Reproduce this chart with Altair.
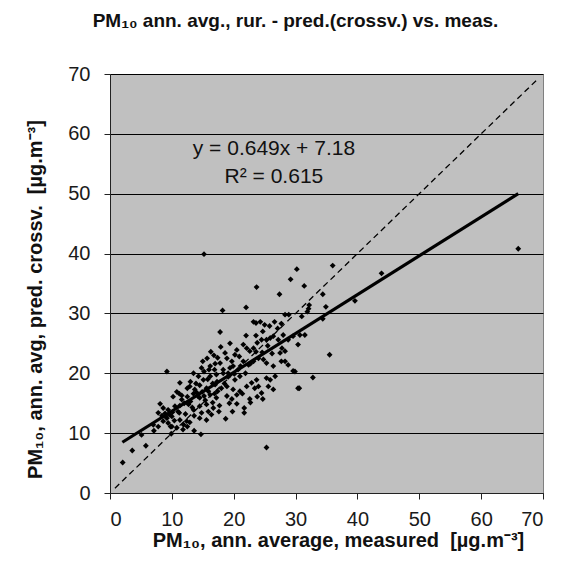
import altair as alt
import pandas as pd

# ---- data ----
meas = [
    # upper / outlying points
    15.2, 36.0, 30.2, 29.2, 31.4, 23.7, 27.4, 34.4, 39.6, 43.9, 66.0, 34.4, 17.8, 30.6, 25.3, 29.6,
    22.0, 18.2, 34.9, 32.2, 32.1, 31.9, 31.0, 28.3, 28.9, 23.2, 23.6, 24.3, 25.0, 25.8, 26.6, 27.7, 27.1, 35.5, 32.8,
    # central cloud (x 18-33)
    24.7, 23.6, 22.0, 21.55, 22.1, 22.6, 23.2, 23.8, 24.5, 25.3, 25.9, 26.4, 27.2, 28.0, 28.8, 29.6, 30.7, 31.5, 30.4,
    19.4, 20.5, 20.2, 20.9, 19.7, 18.6, 18.9, 17.8, 18.3, 19.1, 19.9, 20.7, 21.55, 22.4, 23.2, 24.0, 24.8, 25.3, 26.4,
    27.5, 28.3, 27.7, 28.3, 28.8, 29.9, 26.7, 25.9, 25.3, 23.7, 22.9, 23.4, 24.0, 25.6, 26.4, 24.5, 30.4,
    # left / lower part of the cloud
    16.3, 17.9, 15.7, 14.8, 16.2, 17.0,
    9.2, 11.3, 12.5, 13.5, 14.3, 15.1, 16.2, 17.2,
    12.9, 13.7, 14.5, 15.6, 17.0,
    18.3, 19.1, 20.2, 21.0, 18.0, 18.9, 19.9, 21.0, 22.1,
    10.2, 11.6, 12.5, 13.5, 14.5, 15.4, 16.2, 17.2, 18.9, 19.7, 20.5, 21.4, 22.6, 23.8, 24.7,
    8.1, 8.6, 9.4, 10.5, 11.3, 12.7, 13.5, 14.5, 15.6, 16.7, 17.7, 19.3, 20.5, 21.7, 22.7, 19.8, 21.7, 14.8, 15.9,
    7.8, 8.4, 9.2, 10.0, 11.3, 12.4, 13.6, 14.5, 15.6, 16.4, 18.7, 8.6,
    7.0, 7.8, 9.4, 10.0, 10.8, 11.9, 12.5, 13.6, 14.7, 7.1, 9.9, 9.8,
    5.1, 5.8, 3.6, 2.05,
    16.9, 15.2, 16.0, 15.0, 16.8, 17.4, 14.0, 14.9, 15.8, 16.6, 17.4, 13.0, 13.9, 10.8, 11.2, 11.6,
    13.0, 12.2, 11.0, 10.4, 9.6, 8.9, 11.8, 12.9, 16.6, 17.6, 15.2,
    # extra points in the dense band along the trend line
    14.2, 15.9, 17.3, 18.5, 19.4, 20.1, 21.1, 21.9, 22.7, 23.6, 24.6, 25.5, 26.2, 27.8,
    12.0, 11.2, 10.1, 9.0, 13.3, 16.9,
]
pred = [
    39.9, 38.0, 37.4, 35.7, 34.6, 34.4, 33.2, 33.2, 32.1, 36.7, 40.8, 29.1, 26.9, 17.5, 7.6, 20.4,
    31.0, 30.5, 31.1, 31.4, 30.8, 30.3, 29.5, 29.8, 29.8, 28.6, 28.4, 28.6, 28.1, 27.9, 28.6, 28.3, 27.5, 23.1, 19.3,
    27.0, 26.3, 26.3, 24.8, 24.2, 23.7, 24.2, 25.1, 25.6, 25.6, 25.9, 26.2, 25.6, 26.4, 25.6, 26.2, 26.4, 26.4, 24.8,
    25.0, 23.9, 23.1, 22.8, 22.0, 23.4, 22.5, 21.7, 20.6, 20.0, 21.2, 20.6, 22.0, 21.4, 22.0, 22.5, 22.3, 21.7, 21.2,
    23.4, 23.7, 22.0, 22.0, 21.4, 20.3, 19.5, 18.9, 19.2, 18.9, 18.4, 17.5, 17.8, 17.8, 17.3, 16.7, 17.5,
    23.6, 24.4, 22.5, 20.9, 21.2, 21.6,
    20.3, 18.4, 17.5, 20.0, 19.5, 18.9, 19.5, 19.8,
    17.8, 17.3, 18.0, 17.5, 18.1,
    20.0, 19.4, 18.9, 19.5, 17.5, 17.8, 17.3, 17.0, 17.8,
    16.1, 15.6, 16.1, 16.6, 15.9, 15.5, 16.4, 15.9, 16.2, 15.7, 16.4, 16.6, 15.7, 16.1, 15.7,
    14.9, 14.2, 13.9, 14.5, 14.6, 14.8, 13.9, 14.5, 14.8, 14.2, 14.6, 15.0, 14.9, 14.2, 15.1, 13.6, 13.4, 13.4, 13.6,
    13.4, 12.9, 12.5, 12.8, 12.2, 12.0, 12.9, 12.5, 12.2, 13.1, 12.4, 12.0,
    11.4, 11.1, 11.7, 11.1, 10.9, 11.4, 11.1, 10.4, 9.8, 10.4, 9.9, 11.1,
    9.7, 7.9, 7.1, 5.1,
    20.6, 20.3, 20.6, 22.0, 23.0, 22.6, 16.8, 16.9, 19.0, 18.3, 17.0, 18.6, 18.3, 16.9, 16.6, 16.3,
    15.3, 13.2, 13.6, 12.1, 13.1, 13.3, 10.6, 11.8, 15.1, 13.6, 16.2,
    16.2, 17.0, 18.6, 18.3, 20.9, 19.9, 21.2, 20.0, 21.6, 23.6, 23.5, 24.6, 23.3, 24.2,
    15.0, 13.4, 13.5, 12.8, 14.3, 16.6,
]

slope = 0.649
intercept = 7.18
fit_x = [2.0, 66.0]
fit_y = [slope * v + intercept for v in fit_x]   # trend line of the shown equation
diag_x = [0.8, 69.2]                            # 1:1 line
eq_text = ["y = 0.649x + 7.18", "R\u00b2 = 0.615"]
eq_x = [26.5, 26.5]
eq_y = [57.5, 52.8]

FONT = "Liberation Sans"

pts = pd.DataFrame({"x": meas, "y": pred})
fit = pd.DataFrame({"x": fit_x, "y": fit_y})
diag = pd.DataFrame({"x": diag_x, "y": diag_x})
eq = pd.DataFrame({"x": eq_x, "y": eq_y, "t": eq_text})

xscale = alt.Scale(domain=[0, 70], nice=False, zero=False)
yscale = alt.Scale(domain=[0, 70], nice=False, zero=False)
ticks = [0, 10, 20, 30, 40, 50, 60, 70]

xaxis = alt.Axis(
    values=ticks, grid=False, title="PM\u2081\u2080, ann. average, measured \u00a0[\u00b5g.m\u207b\u00b3]",
    titleX=228, titleY=47, titleAlign="center", titleBaseline="middle", labelPadding=10,
)
yaxis = alt.Axis(
    values=ticks, grid=True, title="PM\u2081\u2080, ann. avg, pred. crossv. \u00a0[\u00b5g.m\u207b\u00b3]",
    titleX=-75, titleY=225, titleAlign="center", titleBaseline="middle", titleAngle=270, labelPadding=14,
)

x_enc = alt.X("x:Q", scale=xscale, axis=xaxis)
y_enc = alt.Y("y:Q", scale=yscale, axis=yaxis)

diag_layer = alt.Chart(diag).mark_line(color="black", strokeWidth=1.3, strokeDash=[6, 4]).encode(x=x_enc, y=y_enc)
pts_layer = alt.Chart(pts).mark_point(shape="diamond", filled=True, color="black", size=34, opacity=1).encode(x=x_enc, y=y_enc)
fit_layer = alt.Chart(fit).mark_line(color="black", strokeWidth=3.2).encode(x=x_enc, y=y_enc)
eq_layer = alt.Chart(eq).mark_text(font=FONT, fontSize=21, color="#111111", align="center", baseline="middle").encode(
    x=x_enc, y=y_enc, text="t:N")

chart = (
    alt.layer(diag_layer, pts_layer, fit_layer, eq_layer)
    .properties(
        width=433, height=419,
        autosize=alt.AutoSizeParams(type="none"),
        padding={"left": 102, "top": 66, "right": 13, "bottom": 64},
        background="white",
        title=alt.TitleParams(
            text="PM\u2081\u2080 ann. avg., rur. - pred.(crossv.) vs. meas.",
            font=FONT, fontSize=19, fontWeight="bold", color="#111111",
            anchor="middle", offset=33, dx=-31,
        ),
    )
    .configure_view(fill="#C0C0C0", stroke="#808080", strokeWidth=1)
    .configure_axis(
        labelFont=FONT, labelFontSize=20, labelColor="#1a1a1a",
        titleFont=FONT, titleFontSize=20, titleFontWeight="bold", titleColor="#111111",
        domainColor="#222222", domainWidth=1, tickColor="#222222", tickSize=6, tickWidth=1,
        gridColor="#000000", gridWidth=1, gridOpacity=1,
    )
)

chart.save("out.html", embed_options={"renderer": "svg", "actions": False})
